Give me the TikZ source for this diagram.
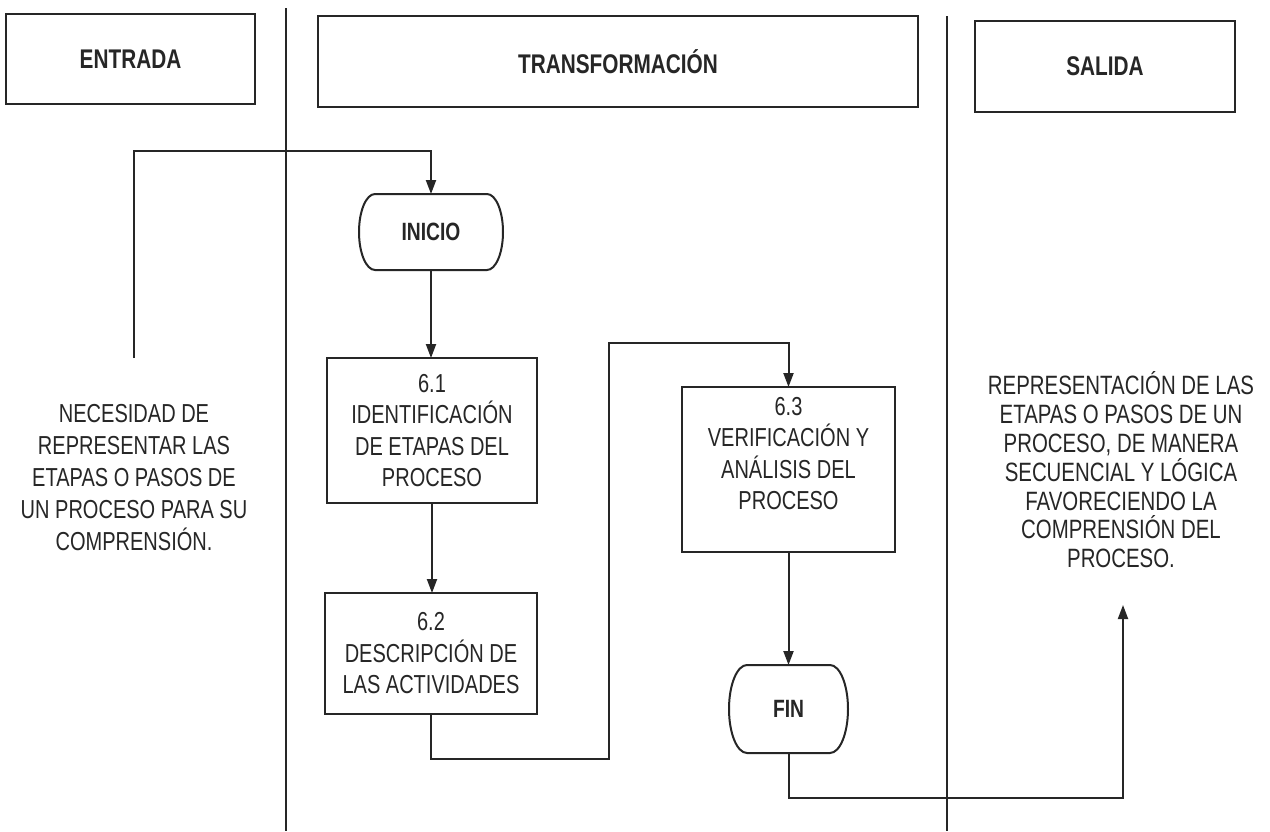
\documentclass[tikz,border=0pt]{standalone}
\usepackage{fontspec}
\setmainfont{Liberation Sans}[FakeStretch=0.77]
\usetikzlibrary{arrows.meta}
\definecolor{ink}{HTML}{262626}
\begin{document}
\begin{tikzpicture}[x=1pt,y=-1pt,
  every node/.style={inner sep=0pt, outer sep=0pt, text=ink},
  hdr/.style={draw=ink, line width=2.2pt, font=\fontsize{27}{30}\selectfont\bfseries},
  procbox/.style={draw=ink, line width=2pt, align=center, font=\fontsize{26}{31.5}\selectfont},
  term/.style={font=\fontsize{25}{28}\selectfont\bfseries},
  termline/.style={draw=ink, line width=2pt},
  flow/.style={draw=ink, line width=2pt},
  arr/.style={flow, -{Triangle[length=14pt,width=10pt]}},
  divider/.style={draw=ink, line width=1.8pt},
  notetext/.style={align=center}
]
\useasboundingbox[fill=white] (0,0) rectangle (1270,831);

% headers
\node[hdr, minimum width=249pt, minimum height=90pt] (entrada) at (130.5,59) {ENTRADA};
\node[hdr, minimum width=600pt, minimum height=91pt] (transf) at (618,61.5) {TRANSFORMACIÓN};
\node[hdr, minimum width=260pt, minimum height=91pt] (salida) at (1105,66.5) {SALIDA};

% dividers
\coordinate (d1t) at (286,8);
\coordinate (d1b) at (286,831);
\coordinate (d2t) at (947,16);
\coordinate (d2b) at (947,831);
\draw[divider] (d1t) -- (d1b);
\draw[divider] (d2t) -- (d2b);

% terminators
\node[term, minimum width=144pt, minimum height=76pt] (inicio) at (431,232) {INICIO};
\draw[termline] ([xshift=16pt]inicio.north west) -- ([xshift=-16pt]inicio.north east)
  arc[start angle=90, end angle=-90, x radius=16pt, y radius=38pt]
  -- ([xshift=16pt]inicio.south west)
  arc[start angle=270, end angle=90, x radius=16pt, y radius=38pt] -- cycle;
\node[term, minimum width=119pt, minimum height=88pt] (fin) at (788.5,709) {FIN};
\draw[termline] ([xshift=18pt]fin.north west) -- ([xshift=-18pt]fin.north east)
  arc[start angle=90, end angle=-90, x radius=18pt, y radius=44pt]
  -- ([xshift=18pt]fin.south west)
  arc[start angle=270, end angle=90, x radius=18pt, y radius=44pt] -- cycle;

% process boxes
\node[procbox, minimum width=210pt, minimum height=145pt] (b61) at (432,430.5)
  {6.1\\IDENTIFICACIÓN\\DE ETAPAS DEL\\PROCESO};
\node[procbox, minimum width=212pt, minimum height=121pt] (b62) at (431,653.5)
  {6.2\\DESCRIPCIÓN DE\\LAS ACTIVIDADES};
\node[procbox, minimum width=213pt, minimum height=165pt] (b63) at (788.5,469.5) {};
\node[procbox, draw=none] (t63) at (788.5,453.5)
  {6.3\\VERIFICACIÓN Y\\ANÁLISIS DEL\\PROCESO};

% side texts
\node[notetext, font=\fontsize{26}{32}\selectfont] (necesidad) at (134,478)
  {NECESIDAD DE\\REPRESENTAR LAS\\ETAPAS O PASOS DE\\UN PROCESO PARA SU\\COMPRENSIÓN.};
\node[notetext, font=\fontsize{26.5}{28.8}\selectfont] (repres) at (1121,470)
  {REPRESENTACIÓN DE LAS\\ETAPAS O PASOS DE UN\\PROCESO, DE MANERA\\SECUENCIAL Y LÓGICA\\FAVORECIENDO LA\\COMPRENSIÓN DEL\\PROCESO.};

% connectors
\coordinate (inStart) at (134,358);
\coordinate (inCorner) at (134,151);
\draw[arr] (inStart) -- (inCorner) -| (inicio.north);
\draw[arr] (inicio.south) -- (inicio.south |- b61.north);
\draw[arr] (b61.south) -- (b61.south |- b62.north);
\coordinate (c1) at (431,759);
\coordinate (c2) at (609,343);
\draw[arr] (b62.south) -- (c1) -| (c2) -| (b63.north);
\draw[arr] (b63.south) -- (fin.north);
\coordinate (c3) at (788.5,798);
\coordinate (outEnd) at (1123,605);
\draw[arr] (fin.south) -- (c3) -| (outEnd);
\end{tikzpicture}
\end{document}
